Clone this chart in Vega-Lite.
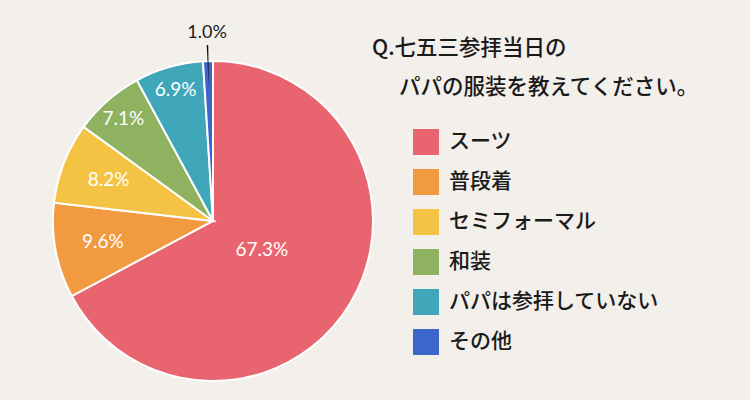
{
  "$schema": "https://vega.github.io/schema/vega-lite/v6.json",
  "autosize": "none",
  "width": 320,
  "height": 320,
  "padding": {"left": 53, "top": 61, "right": 377, "bottom": 19},
  "background": "#f3efeb",
  "config": {"view": {"stroke": null}},
  "title": {
    "text": ["Q.七五三参拝当日の", "\u200b\u3000\u2005パパの服装を教えてください。"],
    "orient": "top",
    "anchor": "start",
    "frame": "group",
    "dx": 319,
    "dy": 78,
    "font": "Noto Sans CJK JP",
    "fontSize": 21.5,
    "fontWeight": 500,
    "color": "#1a1a1a",
    "lineHeight": 39
  },
  "data": {
    "values": [
      {"i": 1, "category": "スーツ", "share": 0.673},
      {"i": 2, "category": "普段着", "share": 0.096},
      {"i": 3, "category": "セミフォーマル", "share": 0.082},
      {"i": 4, "category": "和装", "share": 0.071},
      {"i": 5, "category": "パパは参拝していない", "share": 0.069},
      {"i": 6, "category": "その他", "share": 0.010}
    ]
  },
  "encoding": {
    "theta": {"field": "share", "type": "quantitative", "stack": true},
    "order": {"field": "i", "type": "quantitative"}
  },
  "layer": [
    {
      "mark": {"type": "arc", "stroke": "white", "strokeWidth": 2},
      "encoding": {
        "color": {
          "field": "category",
          "type": "nominal",
          "sort": ["スーツ", "普段着", "セミフォーマル", "和装", "パパは参拝していない", "その他"],
          "scale": {
            "domain": ["スーツ", "普段着", "セミフォーマル", "和装", "パパは参拝していない", "その他"],
            "range": ["#e8646f", "#f19a40", "#f4c343", "#8eb25f", "#40a7bb", "#3c66c9"]
          },
          "legend": {
            "title": null,
            "orient": "none",
            "legendX": 360,
            "legendY": 68,
            "padding": 0,
            "symbolType": "square",
            "symbolSize": 676,
            "symbolStrokeWidth": 0,
            "rowPadding": 14,
            "labelOffset": 10,
            "labelFont": "Noto Sans CJK JP",
            "labelFontSize": 21,
            "labelFontWeight": 500,
            "labelColor": "#1a1a1a",
            "labelLimit": 400
          }
        }
      }
    },
    {
      "mark": {"type": "arc", "outerRadius": 176, "innerRadius": 133, "padAngle": 0.043, "fill": "#111111"},
      "encoding": {
        "opacity": {"condition": {"test": "datum.category === 'その他'", "value": 1}, "value": 0}
      }
    },
    {
      "mark": {"type": "text", "radius": 57, "font": "Lato", "fontSize": 19, "fill": "white"},
      "encoding": {
        "text": {"field": "share", "type": "quantitative", "format": ".1%"},
        "opacity": {"condition": {"test": "datum.i === 1", "value": 1}, "value": 0}
      }
    },
    {
      "mark": {"type": "text", "radius": 112, "font": "Lato", "fontSize": 19, "fill": "white"},
      "encoding": {
        "text": {"field": "share", "type": "quantitative", "format": ".1%"},
        "opacity": {"condition": {"test": "datum.i === 2 || datum.i === 3", "value": 1}, "value": 0}
      }
    },
    {
      "mark": {"type": "text", "radius": 136, "font": "Lato", "fontSize": 19, "fill": "white"},
      "encoding": {
        "text": {"field": "share", "type": "quantitative", "format": ".1%"},
        "opacity": {"condition": {"test": "datum.i === 4 || datum.i === 5", "value": 1}, "value": 0}
      }
    },
    {
      "mark": {"type": "text", "radius": 188, "font": "Lato", "fontSize": 18, "fill": "#1a1a1a"},
      "encoding": {
        "text": {"field": "share", "type": "quantitative", "format": ".1%"},
        "opacity": {"condition": {"test": "datum.i === 6", "value": 1}, "value": 0}
      }
    }
  ]
}
